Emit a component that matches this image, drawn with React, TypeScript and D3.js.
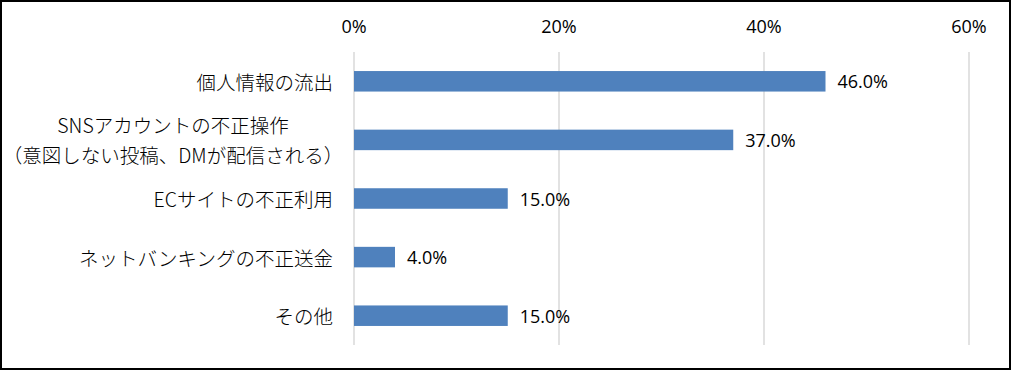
import * as d3 from 'd3'

const categories = [
  '個人情報の流出',
  'SNSアカウントの不正操作\n（意図しない投稿、DMが配信される）',
  'ECサイトの不正利用',
  'ネットバンキングの不正送金',
  'その他',
]
const values = [46.0, 37.0, 15.0, 4.0, 15.0]
const tickValues = [0, 20, 40, 60]

const W = 1011
const H = 370
const BAR_COLOR = '#4F81BD'
const GRID = '#D9D9D9'
const JP_FONT = "'Noto Sans CJK JP', 'Noto Sans', sans-serif"
const NUM_FONT = "'Open Sans', 'Noto Sans', sans-serif"

export default function App() {
  const x = d3.scaleLinear().domain([0, 60]).range([354, 969])
  const y = d3
    .scaleBand()
    .domain(categories)
    .range([52, 345])
    .paddingInner(0.65)
    .paddingOuter(0.325)
  const bw = y.bandwidth()
  const fmt = (v: number) => `${d3.format('.1f')(v)}%`

  return (
    <>
      <style>{`body{margin:0}`}</style>
      <svg width={W} height={H} style={{ display: 'block', background: '#fff' }}>
        <rect x={1} y={1} width={W - 2} height={H - 2} fill="#fff" stroke="#000" strokeWidth={2} />

        {/* grid + top axis labels */}
        {tickValues.map((t) => (
          <g key={t}>
            <line x1={x(t)} x2={x(t)} y1={52} y2={345} stroke={GRID} strokeWidth={1.5} />
            <text
              x={x(t)}
              y={26}
              textAnchor="middle"
              dominantBaseline="central"
              fontFamily={NUM_FONT}
              fontSize={18}
              fill="#000"
            >
              {t}%
            </text>
          </g>
        ))}

        {/* bars */}
        {categories.map((c, i) => (
          <rect
            key={c}
            x={x(0)}
            y={y(c)!}
            width={x(values[i]) - x(0)}
            height={bw}
            fill={BAR_COLOR}
          />
        ))}

        {/* value labels */}
        {categories.map((c, i) => (
          <text
            key={c}
            x={x(values[i]) + 12}
            y={y(c)! + bw / 2}
            dominantBaseline="central"
            fontFamily={NUM_FONT}
            fontSize={18}
            fill="#000"
          >
            {fmt(values[i])}
          </text>
        ))}

        {/* category labels */}
        {categories.map((c) => {
          const lines = c.split('\n')
          const cy = y(c)! + bw / 2
          const lh = 30
          return (
            <text
              key={c}
              x={333}
              textAnchor="end"
              fontFamily={JP_FONT}
              fontSize={19.5}
              fontWeight={300}
              fill="#000"
            >
              {lines.map((l, j) => (
                <tspan
                  key={j}
                  x={lines.length > 1 ? 173 : 333}
                  textAnchor={lines.length > 1 ? 'middle' : 'end'}
                  y={cy + (j - (lines.length - 1) / 2) * lh}
                  dominantBaseline="central"
                >
                  {l}
                </tspan>
              ))}
            </text>
          )
        })}
      </svg>
    </>
  )
}
